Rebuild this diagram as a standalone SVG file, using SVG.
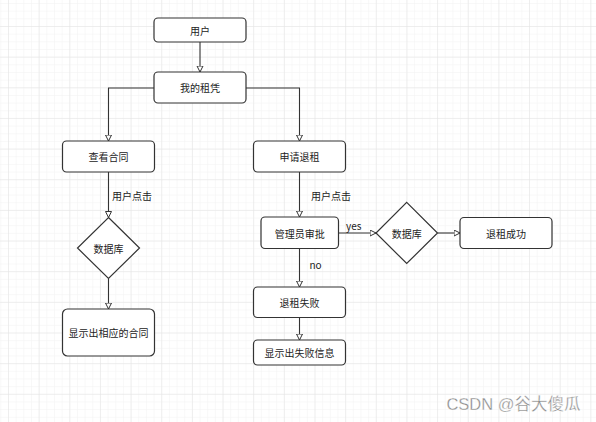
<svg xmlns="http://www.w3.org/2000/svg" width="596" height="422" viewBox="0 0 596 422">
<style>
.node rect{fill:#fff;stroke:#333;stroke-width:1.2}
.node polygon{fill:#fff;stroke:#333;stroke-width:1.2}
text{font-family:"Noto Sans CJK SC","Liberation Sans",sans-serif;font-size:10px;fill:#222;text-anchor:middle;dominant-baseline:central}
.edge{fill:none;stroke:#333;stroke-width:1.1;marker-end:url(#arr)}
.lbl{text-anchor:start}
</style>
<defs>
<pattern id="minor" width="7.6625" height="7.6625" patternUnits="userSpaceOnUse" patternTransform="translate(8,26)">
<path d="M0,0V7.6625M0,0H7.6625" fill="none" stroke="#f2f2f2" stroke-width="1"/>
</pattern>
<pattern id="major" width="30.65" height="30.65" patternUnits="userSpaceOnUse" patternTransform="translate(8,26)">
<path d="M0,0V30.65M0,0H30.65" fill="none" stroke="#e4e4e4" stroke-width="1"/>
</pattern>
<marker id="arr" markerWidth="8" markerHeight="8" refX="6.5" refY="3.5" orient="auto" markerUnits="userSpaceOnUse">
<path d="M0.5,0.5L6.5,3.5L0.5,6.5Z" fill="#fff" stroke="#333" stroke-width="1"/>
</marker>
</defs>
<rect width="596" height="422" fill="#fff"/>
<rect width="596" height="422" fill="url(#minor)"/>
<rect width="596" height="422" fill="url(#major)"/>

<g id="connectors">
<path class="edge" d="M200,42V72"/>
<path class="edge" d="M154,88H108.5V141"/>
<path class="edge" d="M246,88H299.5V141"/>
<path class="edge" d="M108.5,172V217.5"/>
<path class="edge" d="M108.5,278.5V309"/>
<path class="edge" d="M299.5,172V217"/>
<path class="edge" d="M338.5,233H376"/>
<path class="edge" d="M437.5,233H460"/>
<path class="edge" d="M299.5,248.5V287"/>
<path class="edge" d="M299.5,317.5V340"/>
<text class="lbl" x="112" y="195">用户点击</text>
<text class="lbl" x="311" y="195">用户点击</text>
<text class="lbl" x="346" y="225.5">yes</text>
<text class="lbl" x="309.5" y="264">no</text>
</g>

<g id="n-user" class="node"><rect x="154" y="18" width="92" height="24" rx="4"/><text x="200" y="30">用户</text></g>
<g id="n-rent" class="node"><rect x="154" y="72" width="92" height="31" rx="4"/><text x="200" y="87.5">我的租凭</text></g>
<g id="n-view" class="node"><rect x="62.5" y="141" width="92" height="31" rx="4"/><text x="108.5" y="156.5">查看合同</text></g>
<g id="n-db1" class="node"><polygon points="108.5,217.5 139.5,248 108.5,278.5 77.5,248"/><text x="108.5" y="248">数据库</text></g>
<g id="n-show" class="node"><rect x="62.5" y="309" width="92" height="47" rx="5"/><text x="108.5" y="332.5">显示出相应的合同</text></g>
<g id="n-apply" class="node"><rect x="253.5" y="141" width="92" height="31" rx="4"/><text x="299.5" y="156.5">申请退租</text></g>
<g id="n-admin" class="node"><rect x="261" y="217" width="77.5" height="31.5" rx="4"/><text x="299.75" y="233">管理员审批</text></g>
<g id="n-db2" class="node"><polygon points="406.7,202.3 437.5,233 406.7,263.5 376,233"/><text x="406.7" y="233">数据库</text></g>
<g id="n-ok" class="node"><rect x="460" y="217.5" width="92" height="31" rx="4"/><text x="506" y="233">退租成功</text></g>
<g id="n-fail" class="node"><rect x="253.5" y="287" width="92" height="30.5" rx="4"/><text x="299.5" y="302.25">退租失败</text></g>
<g id="n-failmsg" class="node"><rect x="253.5" y="340" width="92" height="25" rx="4"/><text x="299.5" y="352.5">显示出失败信息</text></g>

<text x="513.5" y="404" style="font-family:'Liberation Sans','Noto Sans CJK SC',sans-serif;font-size:16.5px;fill:#8a8a8a;stroke:#fff;stroke-width:0.3">CSDN @谷大傻瓜</text>
</svg>
